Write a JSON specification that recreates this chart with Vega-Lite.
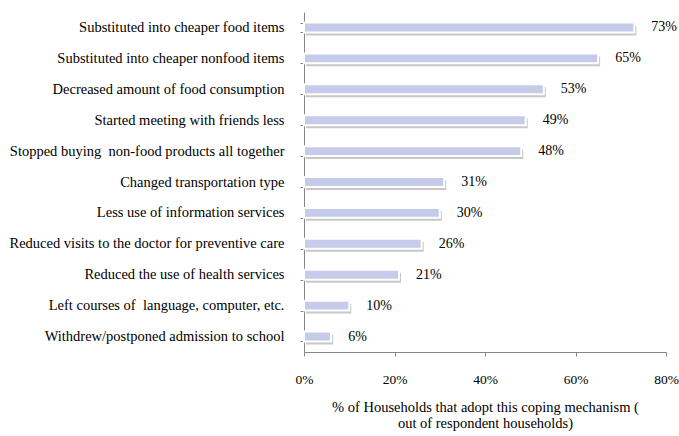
{
  "$schema": "https://vega.github.io/schema/vega-lite/v6.json",
  "autosize": "none",
  "width": 362,
  "height": 340,
  "padding": {"left": 304, "top": 12, "right": 13, "bottom": 84},
  "background": "white",
  "config": {"view": {"stroke": null}, "font": "Liberation Serif"},
  "data": {"values": [
    {"item": "Substituted into cheaper food items", "pct": 73, "label": "73%"},
    {"item": "Substituted into cheaper nonfood items", "pct": 65, "label": "65%"},
    {"item": "Decreased amount of food consumption", "pct": 53, "label": "53%"},
    {"item": "Started meeting with friends less", "pct": 49, "label": "49%"},
    {"item": "Stopped buying\u00a0 non-food products all together", "pct": 48, "label": "48%"},
    {"item": "Changed transportation type", "pct": 31, "label": "31%"},
    {"item": "Less use of information services\u00a0", "pct": 30, "label": "30%"},
    {"item": "Reduced visits to the doctor for preventive care", "pct": 26, "label": "26%"},
    {"item": "Reduced the use of health services", "pct": 21, "label": "21%"},
    {"item": "Left courses of\u00a0 language, computer, etc.", "pct": 10, "label": "10%"},
    {"item": "Withdrew/postponed admission to school", "pct": 6, "label": "6%"}
  ]},
  "encoding": {
    "y": {"field": "item", "type": "nominal", "sort": null,
      "scale": {"paddingInner": 0.68, "paddingOuter": 0.34},
      "axis": {"title": null, "tickBand": "extent", "domainColor": "#868686", "tickColor": "#868686",
        "tickSize": 4, "labelFontSize": 14.5, "labelColor": "#000", "labelPadding": 16, "labelLimit": 320, "labelFont": "Liberation Serif"}},
    "x": {"field": "pct", "type": "quantitative",
      "scale": {"domain": [0, 80]},
      "axis": {"values": [0, 20, 40, 60, 80], "labelExpr": "datum.value + '%'", "grid": false,
        "domainColor": "#868686", "tickColor": "#868686", "tickSize": 4, "labelPadding": 16,
        "labelFontSize": 13.5, "labelColor": "#000", "labelFlush": false,
        "title": ["% of Households that adopt this coping mechanism (", "out of respondent households)"],
        "titleFontSize": 14.5, "titleFontWeight": "normal", "titleColor": "#000", "titlePadding": 15, "titleLineHeight": 16}}
  },
  "layer": [
    {"mark": {"type": "bar", "color": "#8f8f8f", "opacity": 0.5, "xOffset": 2, "yOffset": 3}},
    {"mark": {"type": "bar", "color": "#c6cbea", "stroke": "white", "strokeWidth": 2}},
    {"mark": {"type": "text", "align": "left", "baseline": "middle", "dx": 17, "fontSize": 14, "color": "#000"},
      "encoding": {"text": {"field": "label", "type": "nominal"}}}
  ]
}
